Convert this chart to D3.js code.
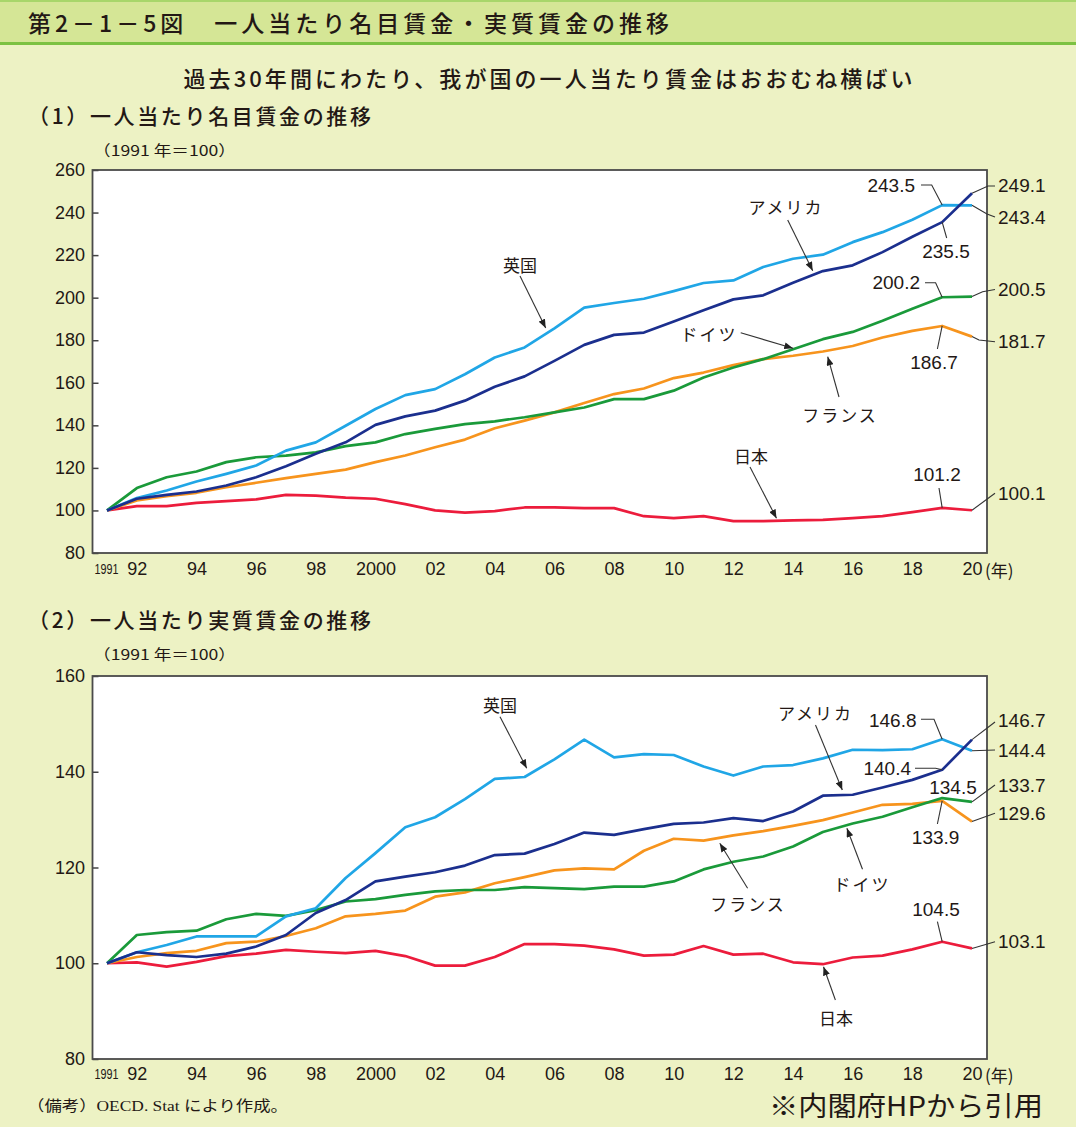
<!DOCTYPE html>
<html><head><meta charset="utf-8">
<script src="https://cdn.jsdelivr.net/npm/d3@7"></script>
<style>
html,body{margin:0;padding:0;background:#edf2c4;}
svg{display:block;}
</style></head><body>
<svg id="c" width="1076" height="1127"></svg>
<script>
// ---------- DATA ----------
const years = [1991,1992,1993,1994,1995,1996,1997,1998,1999,2000,2001,2002,2003,2004,2005,2006,2007,2008,2009,2010,2011,2012,2013,2014,2015,2016,2017,2018,2019,2020];
const xTickYears  = [1991,1992,1994,1996,1998,2000,2002,2004,2006,2008,2010,2012,2014,2016,2018,2020];
const xTickLabels = ["1991","92","94","96","98","2000","02","04","06","08","10","12","14","16","18","20"];

// (1) nominal wages, 1991 = 100
const jpNominal = [100,102.0,102.0,103.6,104.4,105.2,107.3,107.0,106.0,105.5,103.0,100.0,99.0,99.7,101.4,101.4,101.1,101.1,97.3,96.4,97.3,95.0,95.0,95.3,95.6,96.4,97.3,99.2,101.2,100.1];
const frNominal = [100,104.7,106.7,108.3,110.9,113.0,115.2,117.2,119.2,122.7,125.8,129.7,133.3,138.6,142.2,146.1,150.5,154.7,157.3,162.2,164.8,168.3,171.1,172.7,174.7,177.3,181.3,184.4,186.7,181.7];
const deNominal = [100,110.5,115.6,118.3,122.7,125.0,125.8,127.3,130.2,132.0,135.9,138.3,140.6,141.9,143.8,146.1,148.4,152.3,152.3,156.3,162.5,167.2,171.1,175.8,180.5,183.9,189.1,194.8,200.2,200.5];
const ukNominal = [100,105.8,109.4,113.6,117.2,121.1,128.1,132.0,139.8,147.7,154.2,157.0,164.0,171.9,176.6,185.6,195.3,197.5,199.5,203.1,206.9,208.1,214.4,218.3,220.2,226.1,230.8,236.6,243.5,243.4];
const usNominal = [100,105.5,107.3,108.9,111.7,115.6,120.8,126.6,132.0,140.2,144.2,146.9,151.6,158.1,163.0,170.3,177.8,182.5,183.6,188.8,194.1,199.2,201.1,207.0,212.5,215.2,221.4,228.6,235.5,249.1];

// (2) real wages, 1991 = 100
const jpReal = [100,100.2,99.3,100.3,101.5,102.0,102.8,102.4,102.1,102.6,101.5,99.5,99.5,101.3,104.0,104.0,103.7,102.9,101.6,101.8,103.6,101.8,102.0,100.2,99.8,101.2,101.6,102.9,104.5,103.1];
const frReal = [100,101.3,102.1,102.6,104.2,104.5,105.7,107.3,109.8,110.3,111.0,113.9,114.8,116.7,118.0,119.4,119.8,119.6,123.5,126.0,125.6,126.7,127.6,128.7,129.9,131.5,133.1,133.3,133.9,129.6];
const deReal = [100,105.9,106.5,106.8,109.2,110.3,109.9,111.1,112.9,113.4,114.3,115.0,115.3,115.3,115.9,115.7,115.5,116.0,116.0,117.1,119.6,121.2,122.3,124.4,127.4,129.2,130.6,132.6,134.5,133.7];
const ukReal = [100,102.3,103.8,105.6,105.6,105.6,109.8,111.5,117.8,123.0,128.4,130.5,134.3,138.5,138.9,142.6,146.7,143.0,143.7,143.5,141.1,139.2,141.1,141.4,142.8,144.6,144.5,144.7,146.8,144.4];
const usReal = [100,102.3,101.7,101.3,102.0,103.5,105.9,110.5,113.2,117.1,118.1,119.0,120.4,122.6,122.9,124.9,127.3,126.8,128.0,129.1,129.4,130.3,129.7,131.7,135.0,135.2,136.7,138.3,140.4,146.7];

const topYTicks = [80,100,120,140,160,180,200,220,240,260];
const botYTicks = [80,100,120,140,160];

const colors = {jp:"#ec1c3c", fr:"#f7941d", de:"#1a9a3a", uk:"#20a6e6", us:"#1b2f8e"};

// ---------- DRAW ----------
const W = 1076, H = 1127;
const svg = d3.select("#c");
const JP = "'Noto Sans CJK JP','Noto Sans',sans-serif";
const NUM = "'Liberation Sans',Arial,sans-serif";

const defs = svg.append("defs");
defs.append("marker").attr("id","arr").attr("viewBox","0 0 10 8")
  .attr("refX",10).attr("refY",4).attr("markerWidth",9).attr("markerHeight",7)
  .attr("markerUnits","userSpaceOnUse").attr("orient","auto")
  .append("path").attr("d","M0,0L10,4L0,8Z").attr("fill","#222");

svg.append("rect").attr("width",W).attr("height",H).attr("fill","#edf2c4");
svg.append("rect").attr("width",W).attr("height",43).attr("fill","#d5e696");
svg.append("rect").attr("width",W).attr("height",2).attr("fill","#a8d66a");
svg.append("rect").attr("y",42).attr("width",W).attr("height",3).attr("fill","#7cc242");

svg.append("text").attr("x",28).attr("y",22).attr("dominant-baseline","central")
  .attr("font-family",JP).attr("font-size",23).attr("font-weight",500).attr("fill","#231815")
  .attr("textLength",641).attr("lengthAdjust","spacing")
  .text("第2－1－5図　一人当たり名目賃金・実質賃金の推移");

svg.append("text").attr("x",548).attr("y",77).attr("text-anchor","middle").attr("dominant-baseline","central")
  .attr("font-family",JP).attr("font-size",22).attr("font-weight",500).attr("fill","#231815")
  .attr("textLength",729).attr("lengthAdjust","spacing")
  .text("過去30年間にわたり、我が国の一人当たり賃金はおおむね横ばい");

const x = d3.scaleLinear().domain([1991,2020]).range([107,972]);
const plotL = 92.5, plotR = 987;

function drawChart(cfg){
  const g = svg.append("g");
  g.append("text").attr("x",28).attr("y",cfg.titleY).attr("dominant-baseline","central")
    .attr("font-family",JP).attr("font-size",21).attr("font-weight",500).attr("fill","#231815")
    .attr("textLength",343).attr("lengthAdjust","spacing").text(cfg.title);
  g.append("text").attr("x",93).attr("y",cfg.unitY).attr("dominant-baseline","central")
    .attr("font-family",JP).attr("font-size",15).attr("fill","#231815")
    .attr("textLength",143).attr("lengthAdjust","spacingAndGlyphs").text("（1991 年＝100）");

  const y = d3.scaleLinear().domain(cfg.yDomain).range([cfg.bottom, cfg.top]);
  g.append("rect").attr("x",plotL).attr("y",cfg.top).attr("width",plotR-plotL).attr("height",cfg.bottom-cfg.top)
    .attr("fill","#fff");

  // y axis (ticks inward)
  const ya = g.append("g").attr("transform",`translate(${plotL},0)`)
    .call(d3.axisRight(y).tickValues(cfg.yTicks).tickSize(6).tickFormat(""));
  ya.select(".domain").remove();
  ya.selectAll("line").attr("stroke","#444").attr("stroke-width",1.5);
  g.selectAll(".ylab").data(cfg.yTicks).join("text")
    .attr("x",85).attr("y",d=>y(d)).attr("text-anchor","end").attr("dominant-baseline","central")
    .attr("font-family",NUM).attr("font-size",18).attr("fill","#231815").text(d=>d);

  // x axis labels
  const xa = g.append("g").attr("transform",`translate(0,${cfg.bottom})`)
    .call(d3.axisBottom(x).tickValues(xTickYears).tickSize(0).tickPadding(0)
      .tickFormat((d,i)=>xTickLabels[i]));
  xa.select(".domain").remove();
  xa.selectAll("text").attr("y",cfg.xLabOff).attr("dy",0).attr("dominant-baseline","central")
    .attr("font-family",NUM).attr("font-size",18).attr("fill","#231815")
    .filter((d,i)=>i===0).attr("font-size",14).attr("x",-1).attr("textLength",24).attr("lengthAdjust","spacingAndGlyphs");
  g.append("text").attr("x",985).attr("y",cfg.bottom+cfg.xLabOff).attr("dominant-baseline","central")
    .attr("font-family",JP).attr("font-size",17).attr("fill","#231815").text("(年)");

  // lines
  const line = d3.line().x((d,i)=>x(years[i])).y(d=>y(d));
  cfg.series.forEach(s=>{
    g.append("path").datum(s.values).attr("d",line).attr("fill","none")
      .attr("stroke",s.color).attr("stroke-width",2.7).attr("stroke-linejoin","round");
  });

  // border
  g.append("rect").attr("x",plotL).attr("y",cfg.top).attr("width",plotR-plotL).attr("height",cfg.bottom-cfg.top)
    .attr("fill","none").attr("stroke","#4a4a4a").attr("stroke-width",1.8);

  // value labels with leaders
  const lg = d3.line();
  cfg.values.forEach(a=>{
    const p = [x(a.year), y(a.value)];
    if (a.leader) g.append("path").attr("d",lg([p,...a.leader])).attr("fill","none")
      .attr("stroke","#333").attr("stroke-width",1.1);
    g.append("text").attr("x",a.tx).attr("y",a.ty).attr("text-anchor",a.anchor)
      .attr("dominant-baseline","central").attr("font-family",NUM).attr("font-size",19)
      .attr("fill","#231815").text(a.value.toFixed(1));
  });
  // country labels with arrows
  cfg.names.forEach(a=>{
    g.append("text").attr("x",a.tx).attr("y",a.ty).attr("text-anchor","middle")
      .attr("dominant-baseline","central").attr("font-family",JP).attr("font-size",17)
      .attr("letter-spacing",a.ls||0).attr("fill","#231815").text(a.name);
    g.append("line").attr("x1",a.from[0]).attr("y1",a.from[1]).attr("x2",a.to[0]).attr("y2",a.to[1])
      .attr("stroke","#333").attr("stroke-width",1.1).attr("marker-end","url(#arr)");
  });
}

drawChart({
  title:"（1）一人当たり名目賃金の推移", titleY:115, unitY:149,
  top:170, bottom:553, yDomain:[80,260], yTicks:topYTicks, xLabOff:16,
  series:[
    {values:jpNominal,color:colors.jp},{values:frNominal,color:colors.fr},
    {values:deNominal,color:colors.de},{values:ukNominal,color:colors.uk},
    {values:usNominal,color:colors.us}],
  values:[
    {year:2019,value:243.5,tx:915,ty:185,anchor:"end",leader:[[931.7,185],[921,185]]},
    {year:2020,value:249.1,tx:998,ty:185,anchor:"start",leader:[[988,186],[995,186]]},
    {year:2020,value:243.4,tx:998,ty:217,anchor:"start",leader:[[987,214],[995,217]]},
    {year:2019,value:235.5,tx:946,ty:251,anchor:"middle",leader:[[946.7,238]]},
    {year:2019,value:200.2,tx:920,ty:282.5,anchor:"end",leader:[[935.6,282.7],[925,282.7]]},
    {year:2020,value:200.5,tx:998,ty:289.5,anchor:"start",leader:[[982.6,291.7],[995,289.5]]},
    {year:2020,value:181.7,tx:998,ty:341.7,anchor:"start",leader:[[979,340],[995,341.7]]},
    {year:2019,value:186.7,tx:934,ty:362.5,anchor:"middle",leader:[[937.4,349]]},
    {year:2019,value:101.2,tx:937,ty:474.5,anchor:"middle",leader:[[939,488]]},
    {year:2020,value:100.1,tx:998,ty:493.3,anchor:"start",leader:[[995,493.3]]}],
  names:[
    {name:"英国",tx:520,ty:264,from:[520,276],to:[545.7,328]},
    {name:"アメリカ",tx:786,ty:206,ls:2,from:[787.7,220],to:[812.7,270.7]},
    {name:"ドイツ",tx:709,ty:333,ls:2,from:[740.7,332.7],to:[793,348.3]},
    {name:"フランス",tx:840,ty:414,ls:2,from:[839,397],to:[827.7,356.7]},
    {name:"日本",tx:751,ty:455,from:[750,467],to:[776.5,518.3]}]
});

drawChart({
  title:"（2）一人当たり実質賃金の推移", titleY:619, unitY:653,
  top:676, bottom:1059, yDomain:[80,160], yTicks:botYTicks, xLabOff:15,
  series:[
    {values:jpReal,color:colors.jp},{values:frReal,color:colors.fr},
    {values:deReal,color:colors.de},{values:ukReal,color:colors.uk},
    {values:usReal,color:colors.us}],
  values:[
    {year:2019,value:146.8,tx:916.5,ty:720,anchor:"end",leader:[[934,719.3],[921,719.3]]},
    {year:2020,value:146.7,tx:998,ty:720.7,anchor:"start",leader:[[995,722]]},
    {year:2020,value:144.4,tx:998,ty:750,anchor:"start",leader:[[995,750]]},
    {year:2019,value:140.4,tx:911,ty:768.3,anchor:"end",leader:[[935.6,768.3],[915,768.3]]},
    {year:2019,value:134.5,tx:953,ty:787.5,anchor:"middle"},
    {year:2020,value:133.7,tx:998,ty:785,anchor:"start",leader:[[995,785]]},
    {year:2020,value:129.6,tx:998,ty:813.3,anchor:"start",leader:[[995,813.3]]},
    {year:2019,value:133.9,tx:935.6,ty:837.5,anchor:"middle",leader:[[937.4,824]]},
    {year:2019,value:104.5,tx:936,ty:909,anchor:"middle",leader:[[937.4,921.7]]},
    {year:2020,value:103.1,tx:998,ty:941.7,anchor:"start",leader:[[995,941.7]]}],
  names:[
    {name:"英国",tx:500,ty:704,from:[500,716.7],to:[526.7,768.3]},
    {name:"アメリカ",tx:815.5,ty:712.5,ls:2,from:[815.5,725],to:[842.3,790]},
    {name:"フランス",tx:748,ty:903,ls:2,from:[747.6,888.3],to:[719.8,843.3]},
    {name:"ドイツ",tx:862,ty:883,ls:2,from:[862.5,869.3],to:[846.9,828.3]},
    {name:"日本",tx:836,ty:1017,from:[835.4,1000],to:[823.5,966.7]}]
});

svg.append("text").attr("x",27).attr("y",1106).attr("dominant-baseline","central")
  .attr("font-family","'Liberation Serif','DejaVu Serif','Noto Sans CJK JP',serif").attr("font-size",15).attr("fill","#231815")
  .attr("textLength",261).attr("lengthAdjust","spacingAndGlyphs").text("（備考）OECD. Stat により作成。");
svg.append("text").attr("x",769).attr("y",1104).attr("dominant-baseline","central")
  .attr("font-family",JP).attr("font-size",27).attr("fill","#231815")
  .attr("textLength",274).attr("lengthAdjust","spacingAndGlyphs").text("※内閣府HPから引用");
</script>
</body></html>
